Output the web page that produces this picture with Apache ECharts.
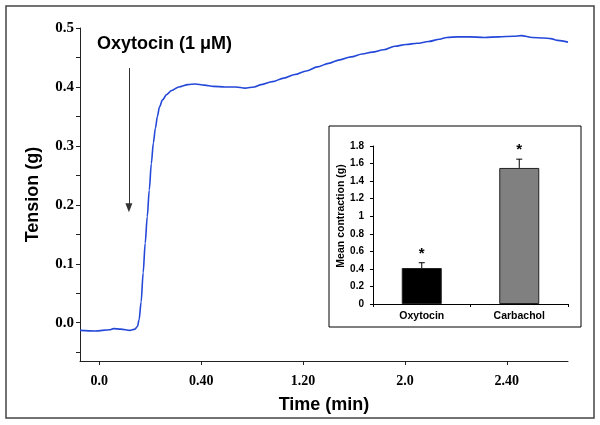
<!DOCTYPE html>
<html>
<head>
<meta charset="utf-8">
<script src="https://cdn.jsdelivr.net/npm/echarts@6/dist/echarts.min.js"></script>
<style>
html,body{margin:0;padding:0;background:#fff;}
#chart{width:600px;height:425px;}
</style>
</head>
<body>
<div id="chart"></div>
<script>
// ---- main trace data (x in tick-index units, y in g) ----
const timeIdx = [-0.19,-0.04,0.10,0.14,0.21,0.30,0.35,0.375,0.39,0.41,0.43,0.45,0.47,0.49,0.51,0.53,0.55,0.57,0.59,0.62,0.66,0.71,0.78,0.87,0.94,1.03,1.12,1.23,1.34,1.43,1.52,1.59,1.70,1.81,1.92,2.03,2.14,2.25,2.36,2.47,2.58,2.68,2.79,2.90,3.01,3.12,3.23,3.34,3.41,3.52,3.63,3.78,3.92,4.07,4.14,4.25,4.36,4.43,4.50,4.60];
const tension = [-0.013,-0.014,-0.012,-0.010,-0.011,-0.013,-0.011,-0.006,0.005,0.035,0.085,0.135,0.180,0.225,0.270,0.305,0.330,0.350,0.366,0.378,0.387,0.394,0.400,0.404,0.405,0.403,0.401,0.400,0.400,0.398,0.400,0.404,0.409,0.415,0.421,0.427,0.434,0.440,0.446,0.451,0.456,0.459,0.463,0.469,0.472,0.474,0.477,0.481,0.484,0.485,0.485,0.484,0.485,0.486,0.487,0.484,0.483,0.482,0.479,0.476];
const xTickValues = [0, 1, 2, 3, 4];
const xTickLabels = ['0.0', '0.40', '1.20', '2.0', '2.40'];
const yLabelValues = [0, 0.1, 0.2, 0.3, 0.4, 0.5];
const yTickValues = [-0.05, 0, 0.05, 0.1, 0.15, 0.2, 0.25, 0.3, 0.35, 0.4, 0.45, 0.5];

// ---- inset bar chart data ----
const insetCategories = ['Oxytocin', 'Carbachol'];
const insetMeans = [0.41, 1.55];
const insetErrTop = [0.47, 1.65];
const insetColors = ['#000000', '#808080'];

// ---- annotation ----
const arrowX = 0.29;
const arrowFrom = 0.432;
const arrowTo = 0.195;

const SANS = 'Liberation Sans, Arial, sans-serif';
const SERIF = 'Liberation Serif, Times New Roman, serif';

const chart = echarts.init(document.getElementById('chart'));
const lineData = timeIdx.map((t, i) => [t, tension[i]]);

const option = {
  animation: false,
  backgroundColor: '#fff',
  grid: [
    { left: 80, right: 32, top: 28, bottom: 64 },
    { left: 373, right: 32, top: 146, bottom: 121 }
  ],
  xAxis: [
    {
      type: 'value', gridIndex: 0, min: -0.19, max: 4.6,
      axisLine: { onZero: false, lineStyle: { color: '#222', width: 1 } },
      axisTick: { customValues: xTickValues, length: 4, lineStyle: { color: '#222' } },
      axisLabel: {
        customValues: xTickValues, margin: 13,
        formatter: v => xTickLabels[Math.round(v)],
        fontFamily: SERIF, fontWeight: 'bold', fontSize: 14, color: '#000'
      },
      splitLine: { show: false },
      name: 'Time (min)', nameLocation: 'middle', nameGap: 35,
      nameTextStyle: { fontFamily: SANS, fontWeight: 'bold', fontSize: 18, color: '#000' }
    },
    {
      type: 'category', gridIndex: 1, data: insetCategories,
      axisLine: { lineStyle: { color: '#000', width: 1 } },
      axisTick: { show: true, length: 3, lineStyle: { color: '#000' } },
      axisLabel: { margin: 7, fontFamily: SANS, fontWeight: 'bold', fontSize: 10.5, color: '#000' }
    }
  ],
  yAxis: [
    {
      type: 'value', gridIndex: 0, min: -0.065, max: 0.5,
      axisLine: { show: true, onZero: false, lineStyle: { color: '#222', width: 1 } },
      axisTick: { show: true, customValues: yTickValues, length: 4, lineStyle: { color: '#222' } },
      axisLabel: {
        customValues: yLabelValues, margin: 6,
        formatter: v => v.toFixed(1),
        fontFamily: SERIF, fontWeight: 'bold', fontSize: 15, color: '#000'
      },
      splitLine: { show: false },
      name: 'Tension (g)', nameLocation: 'middle', nameGap: 38,
      nameTextStyle: { fontFamily: SANS, fontWeight: 'bold', fontSize: 18, color: '#000' }
    },
    {
      type: 'value', gridIndex: 1, min: 0, max: 1.8, interval: 0.2,
      axisLine: { show: true, lineStyle: { color: '#000', width: 1 } },
      axisTick: { show: true, length: 3, lineStyle: { color: '#000' } },
      axisLabel: { margin: 9, fontFamily: SANS, fontWeight: 'bold', fontSize: 10, color: '#000' },
      splitLine: { show: false },
      name: 'Mean contraction (g)', nameLocation: 'middle', nameGap: 22,
      nameTextStyle: { fontFamily: SANS, fontWeight: 'bold', fontSize: 10.5, color: '#000', padding: [0, 0, 0, 18] }
    }
  ],
  series: [
    {
      type: 'line', xAxisIndex: 0, yAxisIndex: 0, data: lineData,
      showSymbol: false, smooth: 0.3, smoothMonotone: 'x',
      lineStyle: { color: '#2448d8', width: 1.6 },
      markLine: {
        silent: true, symbol: ['none', 'triangle'], symbolSize: [7, 9],
        label: { show: false },
        lineStyle: { color: '#333', width: 1, type: 'solid' },
        data: [[{ coord: [arrowX, arrowFrom] }, { coord: [arrowX, arrowTo] }]]
      }
    },
    {
      type: 'bar', xAxisIndex: 1, yAxisIndex: 1, barWidth: 40,
      data: insetMeans.map((v, i) => ({ value: v, itemStyle: { color: insetColors[i] } })),
      itemStyle: { borderColor: '#222', borderWidth: 1 }
    },
    {
      type: 'custom', xAxisIndex: 1, yAxisIndex: 1,
      data: insetMeans.map((v, i) => [i, v, insetErrTop[i]]),
      renderItem: function (params, api) {
        const base = api.coord([api.value(0), api.value(1)]);
        const top = api.coord([api.value(0), api.value(2)]);
        return {
          type: 'group',
          children: [
            { type: 'line', shape: { x1: base[0], y1: base[1], x2: top[0], y2: top[1] }, style: { stroke: '#000', lineWidth: 1 } },
            { type: 'line', shape: { x1: top[0] - 3, y1: top[1], x2: top[0] + 3, y2: top[1] }, style: { stroke: '#000', lineWidth: 1 } },
            { type: 'text', x: top[0], y: top[1] - 9, style: { text: '*', font: 'bold 15px ' + SANS, textAlign: 'center', textVerticalAlign: 'middle', fill: '#000' } }
          ]
        };
      }
    }
  ],
  graphic: [
    { type: 'rect', shape: { x: 6, y: 6, width: 588, height: 412 }, style: { fill: 'none', stroke: '#444', lineWidth: 1.5 } },
    { type: 'rect', shape: { x: 329, y: 126, width: 252, height: 201 }, style: { fill: 'none', stroke: '#000', lineWidth: 1 } },
    { type: 'text', x: 97, y: 44, style: { text: 'Oxytocin (1 \u03bcM)', font: 'bold 18px ' + SANS, fill: '#000', textVerticalAlign: 'middle' } }
  ]
};
chart.setOption(option);
</script>
</body>
</html>
